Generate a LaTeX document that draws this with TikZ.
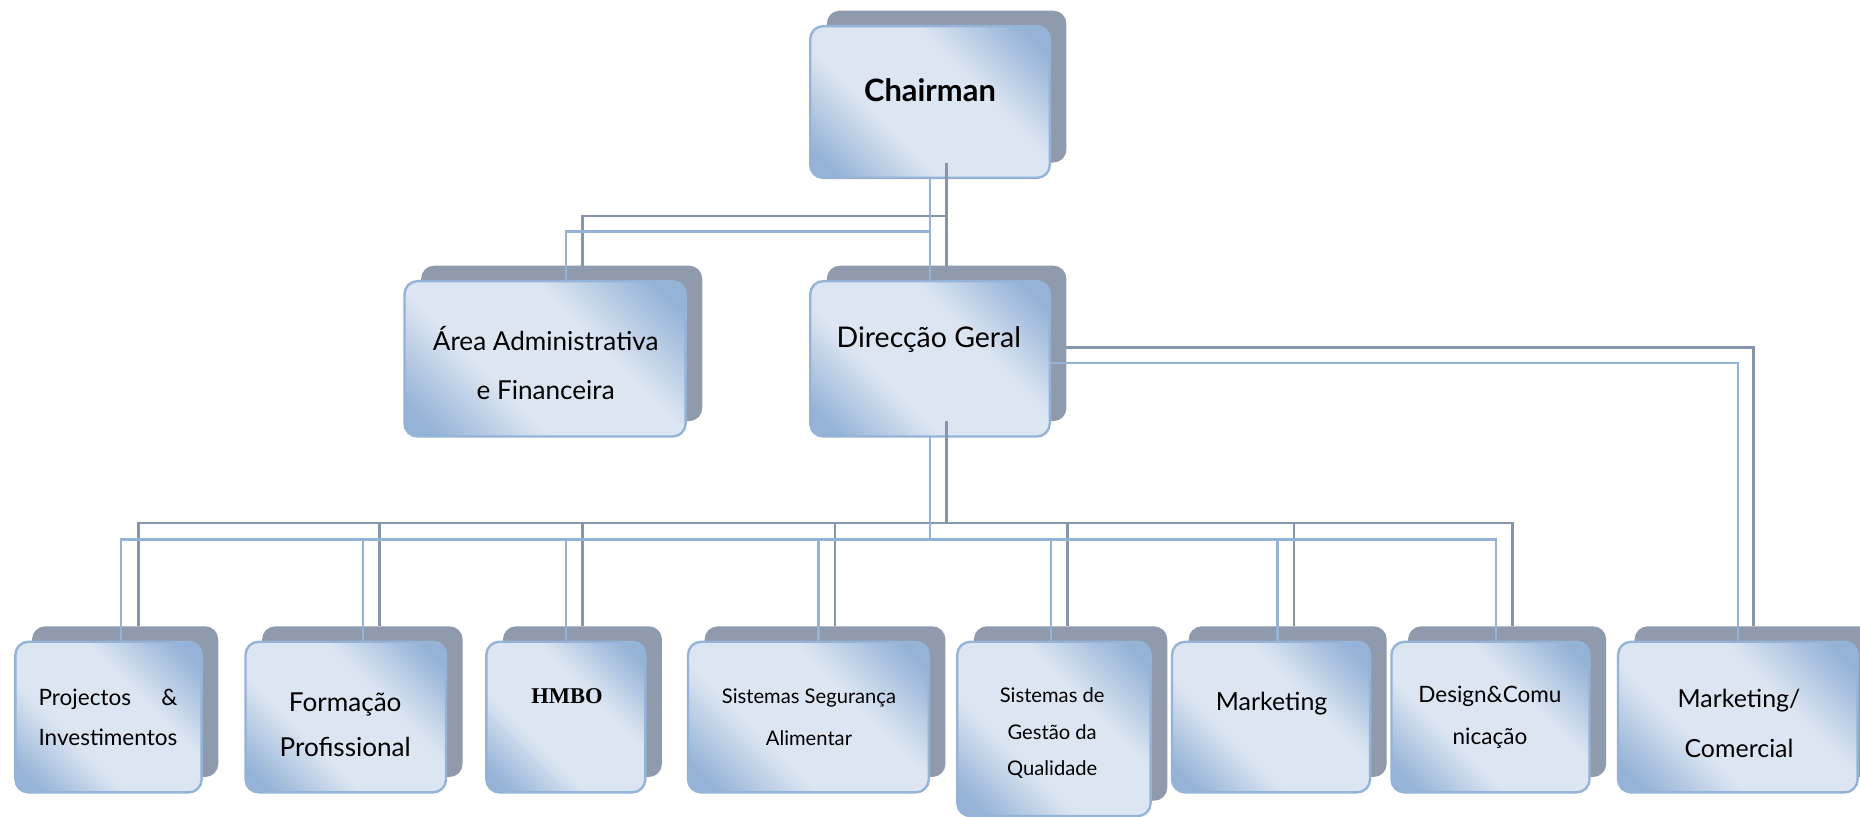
\documentclass[tikz,border=0pt]{standalone}
\usepackage{fontspec}
\setmainfont{Lato}
\newfontfamily\hmbofont{Liberation Serif}
\definecolor{shadowC}{HTML}{8F9BAD}
\definecolor{edgeC}{HTML}{95B3D7}
\definecolor{fillB}{HTML}{95B3D7}
\definecolor{fillL}{HTML}{DCE6F2}
\definecolor{lineD}{HTML}{8595AD}
\definecolor{lineL}{HTML}{95B3D7}
\pgfdeclarehorizontalshading{boxgrad}{100bp}{color(0bp)=(fillB); color(20bp)=(fillB); color(38bp)=(fillL); color(61bp)=(fillL); color(80bp)=(fillB); color(100bp)=(fillB)}
\tikzset{
  shadowbox/.style={fill=shadowC, rounded corners=11pt, inner sep=0pt, outer sep=0pt},
  frontbox/.style={shade, shading=boxgrad, shading angle=45, draw=edgeC, line width=2pt, rounded corners=11pt, inner sep=0pt, outer sep=0pt},
  lbl/.style={align=center, text=black, inner sep=0pt},
  darkln/.style={draw=lineD, line width=2.2pt},
  lightln/.style={draw=lineL, line width=2.2pt},
}
\newcommand{\OrgBox}[5]{%
  \node[shadowbox, minimum width=#4pt, minimum height=#5pt] (#1S) at (#2+14,#3-13) {};
  \node[frontbox, minimum width=#4pt, minimum height=#5pt] (#1) at (#2,#3) {};}
\begin{document}
\begin{tikzpicture}[x=1pt,y=-1pt]
\clip (0,0) rectangle (1568,688);
\fill[white] (0,0) rectangle (1568,688);
% boxes
\OrgBox{chair}{784}{86}{202}{128}
\OrgBox{area}{459.5}{302.5}{237}{131}
\OrgBox{dir}{784}{302.5}{202}{131}
\OrgBox{ba}{91.5}{604.5}{157}{127}
\OrgBox{bb}{291.5}{604.5}{169}{127}
\OrgBox{bc}{477}{604.5}{134}{127}
\OrgBox{bd}{681.5}{604.5}{203}{127}
\OrgBox{be}{888.5}{614.5}{163}{147}
\OrgBox{bf}{1071.5}{604.5}{167}{127}
\OrgBox{bg}{1256.5}{604.5}{167}{127}
\OrgBox{bh}{1465}{604.5}{202}{127}
% labels
\node[lbl, font=\bfseries\fontsize{26}{30}\selectfont] (chairT) at (784,76) {Chairman};
\node[lbl, font=\fontsize{22}{41}\selectfont] (areaT) at (460,306) {Área Administrativa\\e Financeira};
\node[lbl, font=\fontsize{24}{30}\selectfont] (dirT) at (783,286) {Direcção Geral};
\node[lbl, font=\fontsize{19}{34}\selectfont] (baT) at (91,605) {\setbox0\hbox{Investimentos}\hbox to\wd0{Projectos\hfill\&}\\Investimentos};
\node[lbl, font=\fontsize{22}{38}\selectfont] (bbT) at (291,611) {Formação\\Profissional};
\node[lbl, font=\hmbofont\bfseries\fontsize{19}{24}\selectfont] (bcT) at (478,587) {HMBO};
\node[lbl, font=\fontsize{17}{35}\selectfont] (bdT) at (682,604.5) {Sistemas Segurança\\Alimentar};
\node[lbl, font=\fontsize{17}{31}\selectfont] (beT) at (887,618) {Sistemas de\\Gestão da\\Qualidade};
\node[lbl, font=\fontsize{21}{30}\selectfont] (bfT) at (1072,593) {Marketing};
\node[lbl, font=\fontsize{19}{35}\selectfont] (bgT) at (1256,604.5) {Design\&Comu\\nicação};
\node[lbl, font=\fontsize{21}{42}\selectfont] (bhT) at (1466,610) {Marketing/\\Comercial};
% dark connectors (shadow layer)
\draw[darkln] (chairS.south) |- (491,182) -- (areaS.north -| 491,0);
\draw[darkln] (chairS.south) -- (dirS.north);
\foreach \n/\xx in {baS/117, bbS/320, bcS/491, bdS/704, beS/900, bfS/1091, bgS/1275}
  \draw[darkln] (dirS.south) |- (\xx,441) -- (\n.north -| \xx,0);
\draw[darkln] ([yshift=-3.5pt]dirS.east) -| (bhS.north -| 1478,0);
% light connectors (front layer)
\draw[lightln] (chair.south) |- (477,195) -- (area.north -| 477,0);
\draw[lightln] (chair.south) -- (dir.north);
\foreach \n/\xx in {ba/102, bb/306, bc/477, bd/690, be/886, bf/1077, bg/1261}
  \draw[lightln] (dir.south) |- (\xx,455) -- (\n.north -| \xx,0);
\draw[lightln] ([yshift=-3.5pt]dir.east) -| (bh.north -| 1465,0);
\end{tikzpicture}
\end{document}
